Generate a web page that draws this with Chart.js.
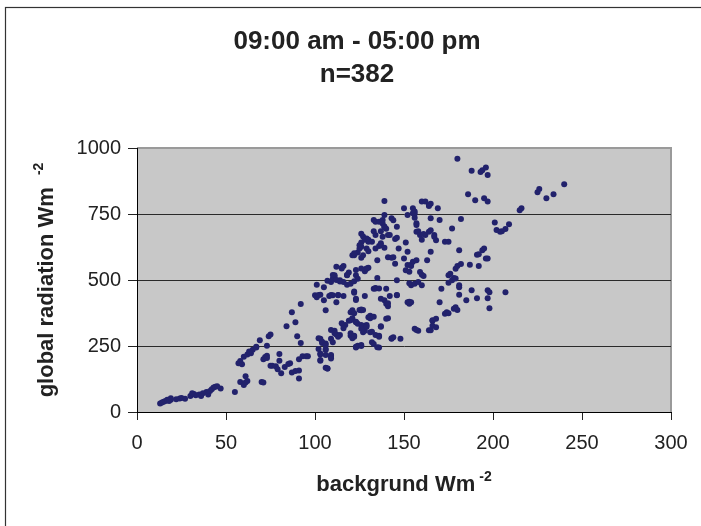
<!DOCTYPE html>
<html>
<head>
<meta charset="utf-8">
<script src="https://cdn.jsdelivr.net/npm/chart.js@4.4.1/dist/chart.umd.min.js"></script>
<style>
  html, body { margin: 0; padding: 0; background: #fff; }
  canvas { display: block; }
</style>
</head>
<body>
<canvas id="scatter" width="701" height="526"></canvas>
<script>
"use strict";
// background (x) vs global radiation (y), both in W m-2
var background = [
  13,14,15,16,17,19,19,22,24,25,
  30,32,33,35,37,39,40,42,43,44,
  47,55,18,27,31,36,41,45,
  57,58,59,58,60,61,62,61,60,62,
  64,65,67,69,70,71,73,71,72,73,
  74,75,75,76,78,79,80,81,80,83,
  86,84,87,87,89,90,91,91,91,92,
  92,93,95,96,63,67,73,85,89,
  101,100,101,103,102,103,103,103,104,105,
  105,106,106,106,106,106,107,107,109,110,
  111,111,109,109,109,110,108,110,111,112,
  112,113,116,113,114,114,116,115,116,116,
  117,118,119,118,119,120,122,120,121,120,
  121,122,121,122,124,122,123,123,124,123,
  124,123,124,
  126,127,125,126,125,126,127,126,126,126,
  127,126,127,128,128,128,129,129,130,129,
  130,129,130,128,130,131,131,132,133,133,
  133,134,133,134,134,136,135,135,136,136,
  136,138,139,140,137,137,137,139,137,139,
  139,139,140,140,141,140,141,143,144,142,
  142,143,144,143,144,145,146,145,146,146,
  147,146,148,
  150,150,151,151,152,153,154,152,152,154,
  154,156,155,156,156,156,157,158,157,157,
  158,158,159,159,160,160,161,160,162,162,
  164,165,163,164,165,164,165,165,165,166,
  166,167,168,168,168,169,170,170,171,173,
  174,173,175,
  175,176,175,177,177,178,179,178,179,180,
  180,181,181,181,181,182,185,186,187,188,
  188,190,191,191,193,194,192,194,195,195,
  196,196,197,197,197,197,197,198,198,201,
  202,204,205,207,207,209,215,216,225,226,
  230,234,240,
  122,126,128,130,132,134,138,139,141,155,
  156,157,152,153,112,115,118,123,129,110,
  137,138,126,
  112,114,102,109,113,122,123,134,136,141,
  146,153,122,121,125,127,120,123,131,133,
  141,115,116,126,127,129,137,109,111,113,
  120,122,132,134,136,102,104,106,143,123,
  126,135,103,106,109,103,109,107,
  155,160,161,167,154,182,192,164,153,179,
  175,180,157,166
];
var globalRadiation = [
  32,36,39,42,46,52,46,48,51,53,
  61,68,63,66,71,76,66,86,93,96,
  89,76,42,50,71,61,80,98,
  185,193,181,114,102,112,117,135,209,218,
  223,236,244,272,114,112,251,200,208,213,
  287,294,175,175,173,162,220,147,194,170,
  185,325,378,150,340,287,127,157,200,409,
  261,211,211,211,229,247,205,182,155,
  482,442,435,444,239,277,218,194,261,423,
  473,216,239,259,385,168,165,497,492,505,
  511,518,213,208,277,264,439,442,308,294,
  416,442,439,289,292,499,492,546,553,327,
  330,518,528,482,346,486,495,378,385,289,
  279,289,594,594,604,452,429,244,251,340,
  334,518,505,
  675,665,632,642,619,584,594,385,388,315,
  321,254,302,308,533,327,330,657,645,619,
  609,543,546,439,359,365,302,264,258,685,
  727,721,467,470,619,629,575,508,244,289,
  721,714,703,694,685,325,632,622,429,423,
  799,746,467,410,401,353,586,584,586,670,
  439,277,283,734,726,655,660,562,499,702,
  619,442,277,
  581,772,537,642,416,410,416,746,607,558,
  480,486,569,736,751,315,683,685,708,575,
  492,308,530,670,480,520,515,797,797,670,
  310,310,575,784,789,683,688,734,607,327,
  346,670,651,353,321,772,416,727,467,372,
  378,645,645,
  518,524,490,695,499,391,397,508,543,553,
  959,473,480,444,613,731,423,825,558,914,
  461,802,596,431,909,916,553,613,619,810,
  926,581,581,797,898,431,461,454,393,718,
  689,683,685,693,454,711,764,772,832,845,
  810,825,863,
  601,626,652,652,645,670,727,700,670,772,
  759,715,557,531,550,544,519,538,544,519,
  639,664,544,
  500,494,443,443,443,456,424,468,468,412,
  443,418,374,355,386,386,348,342,355,361,
  355,336,317,330,317,323,323,311,298,285,
  298,285,304,292,285,279,266,254,279,247,
  250,245,222,235,216,197,203,165,
  753,652,674,664,553,561,598,780,488,506,
  374,386,311,348
];
var xTicks = [0, 50, 100, 150, 200, 250, 300];
var yTicks = [0, 250, 500, 750, 1000];

var FONT = "'Liberation Sans', Arial, sans-serif";
Chart.defaults.font.family = FONT;

var points = background.map(function (x, i) {
    return { x: x, y: globalRadiation[i] };
});

// white page, outer frame, grey plot area
var frame = {
    id: 'frame',
    beforeDraw: function (chart) {
        var c = chart.ctx, a = chart.chartArea;
        c.save();
        c.fillStyle = '#fff';
        c.fillRect(0, 0, chart.width, chart.height);
        c.strokeStyle = '#333';
        c.lineWidth = 1.2;
        c.strokeRect(5.5, 7.5, chart.width + 20, chart.height + 20);
        c.fillStyle = '#c8c8c8';
        c.fillRect(a.left, a.top, a.right - a.left, a.bottom - a.top);
        c.strokeStyle = '#9a9a9a';
        c.lineWidth = 2;
        c.beginPath();
        c.moveTo(a.left, a.top);
        c.lineTo(a.right, a.top);
        c.lineTo(a.right, a.bottom);
        c.stroke();
        c.restore();
    }
};

// axis titles with raised "-2"
function unitTitle(c, main, x, y, gap) {
    c.font = 'bold 22px ' + FONT;
    var w1 = c.measureText(main).width;
    c.font = 'bold 14px ' + FONT;
    var w2 = c.measureText('-2').width;
    var start = x - (w1 + gap + w2) / 2;
    c.textAlign = 'left';
    c.textBaseline = 'alphabetic';
    c.font = 'bold 22px ' + FONT;
    c.fillText(main, start, y);
    c.font = 'bold 14px ' + FONT;
    c.fillText('-2', start + w1 + gap, y - 10);
}
var axisTitles = {
    id: 'axisTitles',
    afterDraw: function (chart) {
        var c = chart.ctx, a = chart.chartArea;
        c.save();
        c.fillStyle = '#222';
        unitTitle(c, 'backgrund Wm', (a.left + a.right) / 2, 491, 4);
        c.translate(53, (a.top + a.bottom) / 2);
        c.rotate(-Math.PI / 2);
        unitTitle(c, 'global radiation Wm', 0, 0, 12);
        c.restore();
    }
};

var ctx = document.getElementById("scatter");
var scatterChart = new Chart(ctx, {
    type: 'scatter',
    data: {
        datasets: [{
            data: points,
            backgroundColor: '#22226c',
            borderWidth: 0,
            pointRadius: 3,
            pointHoverRadius: 3
        }]
    },
    options: {
        responsive: false,
        animation: false,
        events: [],
        layout: { padding: { left: 43, right: 30, top: 0, bottom: 0 } },
        plugins: {
            legend: { display: false },
            tooltip: { enabled: false },
            title: {
                display: true,
                text: ['09:00 am - 05:00 pm', 'n=382'],
                color: '#222',
                font: { size: 26, weight: 'bold', lineHeight: 33 / 26 },
                padding: { top: 25, bottom: 57 }
            }
        },
        scales: {
            x: {
                type: 'linear',
                min: 0,
                max: 300,
                afterBuildTicks: function (s) {
                    s.ticks = xTicks.map(function (v) { return { value: v }; });
                },
                afterFit: function (s) { s.height = 114; },
                ticks: {
                    color: '#222', font: { size: 20 }, padding: 11,
                    callback: function (v) { return String(v); }
                },
                grid: { drawOnChartArea: false, tickLength: 8, tickColor: '#222' },
                border: { color: '#000', width: 1 }
            },
            y: {
                min: 0,
                max: 1000,
                afterBuildTicks: function (s) {
                    s.ticks = yTicks.map(function (v) { return { value: v }; });
                },
                afterFit: function (s) { s.width = 94; },
                ticks: {
                    color: '#222', font: { size: 20 }, padding: 7,
                    callback: function (v) { return String(v); }
                },
                grid: {
                    color: function (c) {
                        if (c.tick && c.tick.value === 1000) return '#9a9a9a';
                        return '#2a2a2a';
                    },
                    lineWidth: 1,
                    tickLength: 9,
                    tickColor: '#222'
                },
                border: { color: '#000', width: 1 }
            }
        }
    },
    plugins: [frame, axisTitles]
});
</script>
</body>
</html>
